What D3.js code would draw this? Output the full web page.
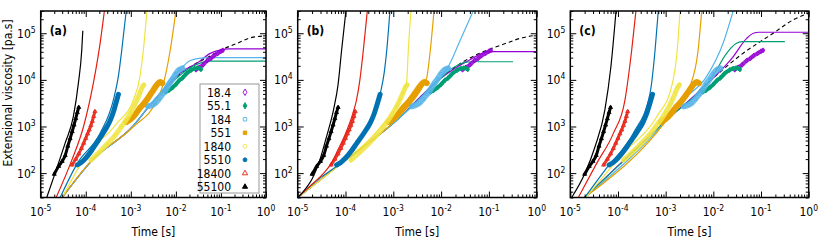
<!DOCTYPE html>
<html>
<head>
<meta charset="utf-8">
<script src="https://cdn.jsdelivr.net/npm/d3@7"></script>
<style>
  body { margin: 0; background: #fff; }
  text { font-family: "DejaVu Sans Condensed", "DejaVu Sans", sans-serif; font-stretch: condensed; }
</style>
</head>
<body>
<div id="wrapper"></div>
<script>
// series (strain rate, 1/s)
const seriesNames = ["18.4", "55.1", "184", "551", "1840", "5510", "18400", "55100"];
const seriesColors = ["#9400d3", "#009e73", "#56b4e9", "#e69f00", "#f0e442", "#0072b2", "#e51e10", "#000000"];
const panelLabels = ["(a)", "(b)", "(c)"];
const xTicks = [1e-5, 1e-4, 1e-3, 1e-2, 1e-1, 1e0];
const yTicks = [1e2, 1e3, 1e4, 1e5];

// measured data [time s, viscosity Pa.s] (same in every panel)
const exp18_4 = [[2.8e-2,16500],[3.3e-2,18500],[4e-2,21000],[5e-2,26000],[6e-2,29000],[7e-2,33000],[8.5e-2,37000],[1e-1,41000],[1.1e-1,43000]];
const exp55_1 = [[6e-3,5500],[7e-3,6000],[8.5e-3,6900],[1e-2,8000],[1.2e-2,9800],[1.4e-2,11000],[1.7e-2,13500],[2.2e-2,16300],[2.6e-2,17500],[3e-2,18000],[3.4e-2,17500],[3.6e-2,16800]];
const exp184 = [[2.4e-3,2700],[3e-3,2900],[3.5e-3,3200],[4.2e-3,3900],[5e-3,4900],[6e-3,6200],[7e-3,8000],[8.5e-3,10500],[1e-2,13500],[1.2e-2,16500],[1.4e-2,17700]];
const exp551 = [[8e-4,1250],[1e-3,1450],[1.3e-3,1900],[1.6e-3,2500],[2e-3,3200],[2.5e-3,4300],[3e-3,5600],[3.5e-3,7000],[4e-3,8300],[4.5e-3,9000],[5e-3,8500]];
const exp1840 = [[1.3e-4,190],[2e-4,280],[3e-4,420],[4.5e-4,650],[6e-4,950],[8e-4,1400],[1e-3,2000],[1.2e-3,2800],[1.4e-3,3900],[1.6e-3,5300],[1.8e-3,7000],[1.95e-3,7800]];
const exp5510 = [[6.5e-5,150],[8e-5,170],[1e-4,210],[1.3e-4,290],[1.7e-4,430],[2.2e-4,620],[2.7e-4,850],[3.3e-4,1200],[4e-4,1900],[4.6e-4,3000],[5.3e-4,4900]];
const exp18400 = [[5e-5,150],[6e-5,200],[7e-5,260],[8e-5,340],[9e-5,440],[1e-4,560],[1.1e-4,700],[1.2e-4,850],[1.3e-4,1050],[1.4e-4,1300],[1.5e-4,1650],[1.6e-4,2100]];
const exp55100 = [[2e-5,95],[2.5e-5,140],[3e-5,180],[3.5e-5,240],[4e-5,380],[4.5e-5,550],[5e-5,780],[5.5e-5,1080],[6e-5,1480],[6.5e-5,2000],[7e-5,2570]];

// model curves, panel (a), in seriesNames order
const fitA = [
  [[3e-5,30],[1.4e-4,190],[1.1e-3,1000],[2.7e-3,2900],[8e-3,9500],[1.5e-2,16000],[2.9e-2,22600],[5.8e-2,37000],[0.1,44000],[0.15,46000],[1,46000]],
  [[3e-5,30],[1.4e-4,190],[1.1e-3,1000],[2.7e-3,2900],[6e-3,6500],[1.25e-2,12700],[2.5e-2,20000],[4e-2,24000],[6e-2,25300],[1,25300]],
  [[3e-5,30],[1.4e-4,190],[1.1e-3,1000],[2.7e-3,3000],[5e-3,6000],[8e-3,11000],[1.25e-2,17000],[2.1e-2,26000],[4e-2,29500],[6e-2,30000],[1,30000]],
  [[3e-5,30],[1.36e-4,190],[1.14e-3,986],[3.8e-3,3690],[5.3e-3,8400],[7.5e-3,43700],[1e-2,3e5]],
  [[3e-5,30],[8.85e-5,190],[4.9e-4,1170],[1.14e-3,3690],[1.6e-3,12000],[1.9e-3,43700],[2.27e-3,3e5]],
  [[2.7e-5,30],[6.5e-5,162],[2.08e-4,712],[4.1e-4,3690],[5.3e-4,12000],[6.3e-4,43700],[7.9e-4,3e5]],
  [[2.2e-5,30],[4.9e-5,190],[8.9e-5,986],[1.47e-4,8400],[2.08e-4,60800],[2.59e-4,3e5]],
  [[1.36e-5,30],[2.08e-5,99],[3.47e-5,435],[5.3e-5,1620],[6.85e-5,8400],[8.15e-5,43700],[8.6e-5,1.13e5]]
];
const envA = [[8e-3,9500],[1.2e-2,13000],[2.1e-2,19100],[4e-2,27000],[7e-2,36000],[0.12,47000],[0.23,61000],[0.45,80000],[1,88000]];

// model curves, panel (b)
const fitB = [
  [[1e-5,30],[1e-4,190],[1e-3,1170],[1e-2,11000],[2e-2,18000],[4e-2,27000],[6e-2,34000],[9e-2,40000],[0.13,40200],[1,40200]],
  [[1e-5,30],[1e-4,190],[1e-3,1170],[1e-2,11000],[1.5e-2,16000],[2.2e-2,20500],[3e-2,23500],[4.5e-2,24500],[0.32,24500]],
  [[1e-5,30],[1e-4,190],[1e-3,1170],[5e-3,5500],[1e-2,11500],[1.4e-2,19000],[2.5e-2,70000],[4.7e-2,3e5]],
  [[1e-5,30],[1e-4,190],[8e-4,1000],[2e-3,2600],[3e-3,4300],[4e-3,6800],[5e-3,11000],[5.9e-3,40000],[7.1e-3,3e5]],
  [[1e-5,30],[1e-4,190],[3e-4,500],[6e-4,1100],[1e-3,2100],[1.5e-3,4500],[1.9e-3,9000],[2.06e-3,43700],[2.34e-3,3e5]],
  [[1e-5,30],[3e-5,80],[7e-5,150],[1e-4,210],[1.7e-4,430],[3.3e-4,1200],[5.3e-4,4900],[6.5e-4,15000],[7.3e-4,43700],[8.5e-4,3e5]],
  [[1e-5,30],[2e-5,58],[3.5e-5,100],[5e-5,160],[7e-5,320],[1e-4,700],[1.4e-4,1800],[1.7e-4,3700],[2e-4,10000],[2.36e-4,43000],[2.86e-4,3e5]],
  [[1e-5,30],[1.5e-5,48],[2e-5,75],[2.9e-5,190],[4e-5,600],[5.6e-5,2250],[7e-5,8000],[8.3e-5,43700],[1.02e-4,3e5]]
];
const envB = [[6e-3,7000],[1e-2,11000],[3e-2,25000],[0.1,45000],[0.2,58000],[0.5,80000],[1,91000]];

// model curves, panel (c)
const fitC = [
  [[2e-5,30],[1.05e-3,1370],[1e-2,11000],[2.6e-2,31300],[5e-2,77700],[6.9e-2,100000],[0.09,105000],[1,105000]],
  [[2e-5,30],[1.05e-3,1370],[1e-2,12700],[1.9e-2,37100],[3e-2,60000],[4e-2,65800],[0.316,65800]],
  [[2e-5,30],[1.05e-3,1370],[2.34e-3,3690],[7.2e-3,11700],[1.6e-2,60800],[2.6e-2,3e5]],
  [[2e-5,30],[1.05e-3,1374],[3.2e-3,7130],[4.8e-3,43700],[5.7e-3,3e5]],
  [[2.1e-5,30],[1.29e-4,265],[6.5e-4,1620],[1.33e-3,7130],[1.75e-3,43700],[2e-3,3e5]],
  [[2e-5,30],[5.8e-5,130],[2.1e-4,712],[4.7e-4,5140],[6e-4,43700],[7e-4,3e5]],
  [[1.47e-5,30],[3.57e-5,162],[8e-5,712],[1.4e-4,3690],[1.94e-4,43700],[2.38e-4,3e5]],
  [[1.07e-5,30],[2.03e-5,99],[3.3e-5,367],[5.3e-5,2250],[7.1e-5,19100],[9.1e-5,3e5]]
];
const envC = [[5e-3,5800],[1e-2,11000],[3.6e-2,33000],[0.18,100000],[0.5,200000],[1,270000]];

const expData = [exp18_4, exp55_1, exp184, exp551, exp1840, exp5510, exp18400, exp55100];
const fits = [fitA, fitB, fitC];
const envs = [envA, envB, envC];

// marker look per series
const symTypes = [d3.symbolDiamond, d3.symbolDiamond, d3.symbolSquare, d3.symbolSquare,
                  d3.symbolCircle, d3.symbolCircle, d3.symbolTriangle, d3.symbolTriangle];
const symFilled = [false, true, false, true, false, true, false, true];
const bandWidth = [4, 4, 6, 6, 5, 5, 3, 3];

const W = 822, H = 245;
const panelX = [[40.7, 266], [297.7, 536.7], [570.3, 808.7]];
const plotTop = 11, plotBottom = 197.5;

const svg = d3.select("#wrapper").append("svg")
    .attr("width", W).attr("height", H);

const minorX = [];
for (let e = -5; e < 0; e++) for (let k = 2; k <= 9; k++) minorX.push(k * Math.pow(10, e));
const minorY = [];
for (let e = 1; e <= 5; e++) for (let k = 2; k <= 9; k++) {
    const v = k * Math.pow(10, e);
    if (v >= 30 && v <= 3e5) minorY.push(v);
}

function supLabel(sel, exp) {
    sel.append("tspan").text("10");
    sel.append("tspan").attr("dy", -5).attr("font-size", 8.5).text(exp);
}

panelX.forEach((px, p) => {
    const x = d3.scaleLog().domain([1e-5, 1]).range(px);
    const y = d3.scaleLog().domain([30, 3e5]).range([plotBottom, plotTop]);
    const g = svg.append("g");

    const clipId = "clip" + p;
    g.append("clipPath").attr("id", clipId)
        .append("rect").attr("x", px[0]).attr("y", plotTop)
        .attr("width", px[1] - px[0]).attr("height", plotBottom - plotTop);

    const plot = g.append("g").attr("clip-path", `url(#${clipId})`);
    const line = d3.line().x(d => x(d[0])).y(d => y(d[1])).curve(d3.curveMonotoneX);

    // envelope (under the model lines)
    plot.append("path")
        .attr("d", line(envs[p]))
        .attr("fill", "none")
        .attr("stroke", "#000")
        .attr("stroke-width", 1.1)
        .attr("stroke-dasharray", "4,3");

    // model lines
    plot.selectAll(".fit").data(fits[p]).enter().append("path")
        .attr("d", d => line(d))
        .attr("fill", "none")
        .attr("stroke", (d, i) => seriesColors[i])
        .attr("stroke-width", 1.2);

    // measured bands
    expData.forEach((pts, i) => {
        plot.append("path")
            .attr("d", line(pts))
            .attr("fill", "none")
            .attr("stroke", seriesColors[i])
            .attr("stroke-width", bandWidth[i])
            .attr("stroke-opacity", symFilled[i] ? 1 : 0.85)
            .attr("stroke-linecap", "round")
            .attr("stroke-linejoin", "round");
        plot.selectAll(null).data(pts).enter().append("path")
            .attr("transform", d => `translate(${x(d[0])},${y(d[1])})`)
            .attr("d", d3.symbol().type(symTypes[i]).size(7))
            .attr("fill", symFilled[i] ? seriesColors[i] : "none")
            .attr("stroke", seriesColors[i])
            .attr("stroke-width", 0.8);
    });

    // ticks, inward on all sides
    const addAxis = (axis, tx, ty) => {
        const a = g.append("g").attr("transform", `translate(${tx},${ty})`).call(axis);
        a.select(".domain").remove();
        a.selectAll("line").attr("stroke", "#000").attr("stroke-width", 1);
        a.selectAll("text").remove();
    };
    addAxis(d3.axisBottom(x).tickValues(xTicks).tickSize(-6), 0, plotBottom);
    addAxis(d3.axisBottom(x).tickValues(minorX).tickSize(-3), 0, plotBottom);
    addAxis(d3.axisTop(x).tickValues(xTicks).tickSize(-6), 0, plotTop);
    addAxis(d3.axisTop(x).tickValues(minorX).tickSize(-3), 0, plotTop);
    addAxis(d3.axisLeft(y).tickValues(yTicks).tickSize(-6), px[0], 0);
    addAxis(d3.axisLeft(y).tickValues(minorY).tickSize(-3), px[0], 0);
    addAxis(d3.axisRight(y).tickValues(yTicks).tickSize(-6), px[1], 0);
    addAxis(d3.axisRight(y).tickValues(minorY).tickSize(-3), px[1], 0);

    g.append("rect")
        .attr("x", px[0]).attr("y", plotTop)
        .attr("width", px[1] - px[0]).attr("height", plotBottom - plotTop)
        .attr("fill", "none").attr("stroke", "#000").attr("stroke-width", 1.5);

    // tick labels
    xTicks.forEach(v => {
        g.append("text")
            .attr("x", x(v)).attr("y", 216)
            .attr("text-anchor", "middle")
            .attr("font-size", 12)
            .call(supLabel, String(Math.round(Math.log10(v))));
    });
    yTicks.forEach(v => {
        g.append("text")
            .attr("x", px[0] - 5).attr("y", y(v) + 4.5)
            .attr("text-anchor", "end")
            .attr("font-size", 12)
            .call(supLabel, String(Math.round(Math.log10(v))));
    });

    g.append("text")
        .attr("x", (px[0] + px[1]) / 2).attr("y", 236)
        .attr("text-anchor", "middle")
        .attr("font-size", 12)
        .text("Time [s]");

    g.append("text")
        .attr("x", px[0] + 9).attr("y", 35)
        .attr("font-size", 12)
        .attr("font-weight", "bold")
        .text(panelLabels[p]);
});

svg.append("text")
    .attr("transform", "translate(12,93) rotate(-90)")
    .attr("text-anchor", "middle")
    .attr("font-size", 12)
    .text("Extensional viscosity [pa.s]");

// legend in panel (a)
const legend = svg.append("g");
legend.append("rect")
    .attr("x", 200).attr("y", 84).attr("width", 59).attr("height", 109)
    .attr("fill", "#fff").attr("stroke", "#999").attr("stroke-width", 1);
seriesNames.forEach((name, i) => {
    const ly = 92.3 + i * 13.5;
    legend.append("text")
        .attr("x", 231).attr("y", ly + 4.5)
        .attr("text-anchor", "end")
        .attr("font-size", 12)
        .text(name);
    legend.append("path")
        .attr("transform", `translate(245,${ly})`)
        .attr("d", d3.symbol().type(symTypes[i]).size(12))
        .attr("fill", symFilled[i] ? seriesColors[i] : "none")
        .attr("stroke", seriesColors[i])
        .attr("stroke-width", 0.9);
});
</script>
</body>
</html>
